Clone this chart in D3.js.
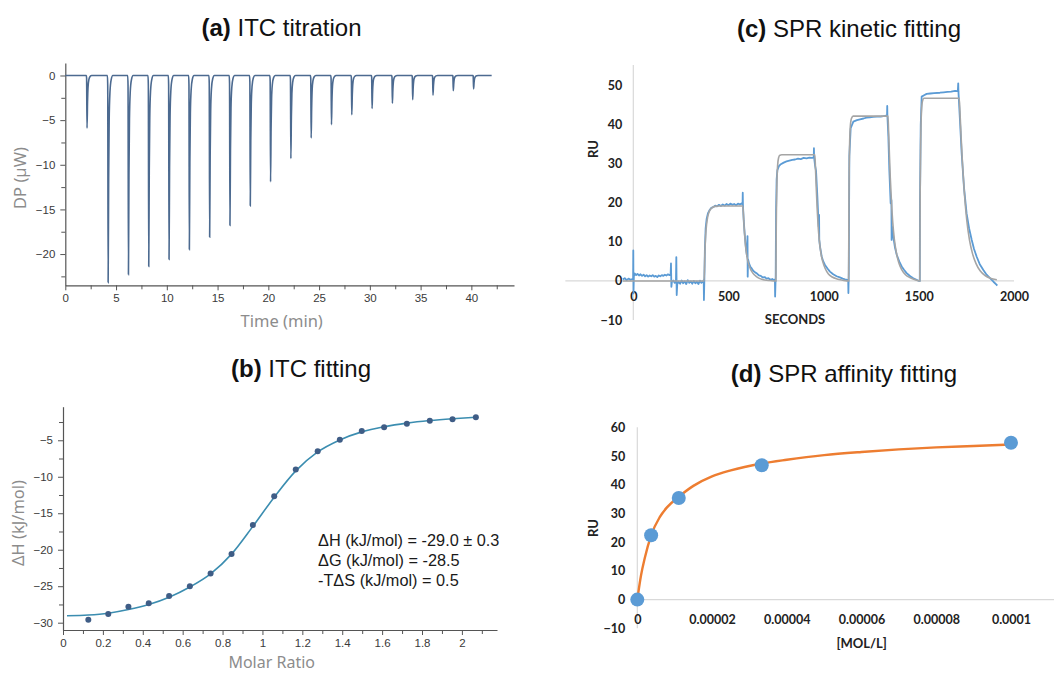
<!DOCTYPE html>
<html><head><meta charset="utf-8">
<script src="https://cdn.jsdelivr.net/npm/d3@7/dist/d3.min.js"></script>
<style>body{margin:0;background:#fff}svg{display:block}</style>
</head><body>
<svg id="chart" width="1054" height="673"></svg>
<script>
// ---------------- DATA ----------------
// (a) ITC titration: injection times (min) and peak heights (µW)
const itcInjectionTimes = [2.1,4.18,6.18,8.18,10.18,12.18,14.18,16.18,18.18,20.18,22.18,24.18,26.18,28.18,30.18,32.18,34.18,36.18,38.18,40.18];
const itcPeakDP = [-5.9,-23.2,-22.3,-21.4,-20.6,-19.5,-18.1,-16.8,-14.6,-11.9,-9.3,-7.0,-5.5,-4.4,-3.7,-3.1,-2.7,-2.2,-1.7,-1.5];
const itcRunEnd = 42;
const itcTimeTicks = [0,5,10,15,20,25,30,35,40];
const itcDPTicks = [0,-5,-10,-15,-20];

// (b) ITC fitting
const molarRatio = [0.127,0.227,0.328,0.43,0.532,0.636,0.74,0.845,0.952,1.059,1.167,1.277,1.388,1.498,1.61,1.724,1.839,1.953,2.07];
const deltaH = [-29.6,-28.8,-27.8,-27.35,-26.35,-25.0,-23.25,-20.6,-16.6,-12.66,-9.02,-6.5,-4.92,-3.73,-3.22,-2.73,-2.32,-2.13,-1.85];
const fitRatio = [0.02,0.127,0.227,0.328,0.43,0.532,0.636,0.74,0.845,0.952,1.059,1.167,1.277,1.388,1.498,1.61,1.724,1.839,1.953,2.07];
const fitDeltaH = [-29.05,-28.95,-28.7,-28.2,-27.5,-26.5,-25.1,-23.3,-20.6,-16.8,-12.8,-9.2,-6.6,-4.95,-3.85,-3.15,-2.65,-2.3,-2.05,-1.85];
const ratioTicks = [0,0.2,0.4,0.6,0.8,1,1.2,1.4,1.6,1.8,2];
const ratioTickLabels = ["0","0.2","0.4","0.6","0.8","1","1.2","1.4","1.6","1.8","2"];
const dHTicks = [-5,-10,-15,-20,-25,-30];
const itcResults = ["\u0394H (kJ/mol) = -29.0 \u00B1 0.3","\u0394G (kJ/mol) = -28.5","-T\u0394S (kJ/mol) = 0.5"];

// (c) SPR kinetic fitting: [seconds, RU]
const sprResponse = [[-55,0.4],[-45,0.7],[-35,0.2],[-25,0.6],[-15,0.3],[-5,0.5],[-1,0.5],[0,7.8],[1,-3.2],[3,1.2],
[8,1.9],[15,1.5],[22,1.8],[30,1.4],[38,1.7],[46,1.3],[54,1.6],[62,1.2],[70,1.5],[78,1.1],[86,1.4],[94,1.2],[102,1.5],[110,1.1],[118,1.3],[126,1.0],[134,1.4],[142,1.2],[150,1.5],[158,1.3],[166,1.6],[174,1.4],[182,1.7],[190,1.5],[196,1.6],
[198,4.5],[200,-1.5],[203,-0.2],[210,0.1],[218,-0.5],[224,-0.2],[226,6.1],[228,-3.6],[231,-0.8],[238,-0.2],[246,-0.7],[254,0.1],[262,-0.6],[270,-0.1],[278,-0.8],[286,0.2],[294,-0.5],[302,-0.1],[310,-0.7],[318,0],[326,-0.6],[334,-0.2],[342,-0.8],[350,0.1],[358,-0.5],[366,-0.2],
[370,0.2],[371,-4.9],[373,-0.5],[376,8],[380,13.5],[385,15.8],[392,17.3],[400,18.1],[410,18.7],[420,18.9],[430,19.3],[440,19.1],[450,19.5],[460,19.2],[470,19.6],[480,19.3],[490,19.7],[500,19.4],[510,19.8],[520,19.5],[530,19.7],[540,19.4],[550,19.8],[560,19.6],[570,19.9],[574,19.6],
[575,22.6],[576,19.5],[580,15.5],[585,12.2],[592,8.2],[598,6.2],[600,11.5],[601,1.1],[603,5.5],[608,4.5],[615,3.6],[622,3.2],[630,2.6],[640,2.2],[650,1.9],[660,1.4],[670,1.3],[680,0.9],[690,1.0],[700,0.6],[710,0.7],[720,0.3],[730,0.5],[740,0.2],
[744,0.4],[745,-4.0],[748,1],[750,18],[753,26],[757,28.4],[765,29.4],[775,29.9],[790,30.3],[805,30.6],[820,30.8],[835,31.0],[850,31.1],[865,31.3],[880,31.2],[895,31.5],[910,31.4],[925,31.6],[940,31.5],[948,31.7],
[949,34],[950,31.6],[955,29.5],[960,28.2],[967,21.6],[974,13.9],[976,16.9],[977,10.5],[981,8.8],[990,6.2],[998,5.0],[1007,4.1],[1020,3.2],[1033,2.4],[1050,1.7],[1068,1.2],[1085,0.9],[1100,0.6],[1112,0.4],[1125,0.3],
[1129,0.1],[1130,-3.1],[1132,2],[1135,32],[1142,39.1],[1156,40.8],[1175,41.2],[1191,41.4],[1210,41.6],[1225,41.8],[1243,41.9],[1260,42.0],[1280,42.1],[1300,42.1],[1314,42.2],[1325,42.3],[1333,42.3],
[1334,44.8],[1335,42.2],[1340,36.9],[1345,28.4],[1352,19.9],[1356,20.7],[1357,10.5],[1359,14],[1366,11.3],[1375,8.5],[1384,6.7],[1397,5.0],[1410,3.7],[1423,2.8],[1436,2.0],[1455,1.2],[1471,0.7],[1488,0.3],[1502,0],
[1505,0],[1506,20],[1510,40],[1515,47.2],[1530,47.6],[1541,47.9],[1560,48.0],[1580,48.1],[1611,48.2],[1630,48.3],[1650,48.4],[1670,48.5],[1690,48.7],[1705,48.6],
[1707,50.6],[1708,48.6],[1716,41.2],[1725,32.7],[1737,24.1],[1751,17.3],[1764,13.5],[1778,10.5],[1790,8.2],[1804,6.2],[1820,4.3],[1839,2.8],[1856,1.6],[1874,0.7],[1892,-0.2],[1909,-1.0],[1912,-1.2]];
const sprFit = [[-55,0],[372,0],[376,7],[380,11.5],[385,14.5],[390,16.2],[396,17.4],[405,18.3],[415,18.8],[430,19.1],[450,19.2],[575,19.2],[578,17.5],[582,14],[587,10.5],[592,8],[598,6],[606,4.3],[615,3.1],[628,2],[645,1.2],[665,0.6],[690,0.25],[720,0.1],[749,0],
[751,14],[754,24],[758,29.5],[763,31.5],[770,32.2],[780,32.3],[954,32.3],[957,29],[961,24],[966,18.5],[971,14],[977,10.5],[985,7.3],[995,5],[1008,3.2],[1025,1.8],[1045,1],[1070,0.5],[1100,0.2],[1131,0],
[1133,22],[1136,34],[1140,39.5],[1146,41.6],[1155,42.2],[1338,42.2],[1341,38.5],[1345,33],[1350,26.5],[1356,20.5],[1363,15],[1371,10.8],[1381,7.5],[1394,4.8],[1410,2.9],[1430,1.6],[1455,0.8],[1480,0.3],[1505,0],
[1507,22],[1510,36],[1514,43.5],[1519,46],[1527,46.8],[1712,46.8],[1716,43.5],[1722,37],[1730,29.5],[1740,22],[1752,15.5],[1766,10.5],[1782,7],[1800,4.5],[1822,2.6],[1848,1.4],[1875,0.7],[1910,0.3]];
const secondsTicks = [0,500,1000,1500,2000];
const ruTicksC = [50,40,30,20,10,0,-10];

// (d) SPR affinity fitting
const concentration = [0,0.0000037,0.0000111,0.0000333,0.0001];
const steadyRU = [0,22.4,35.4,46.8,54.6];
const affFitConc = [0,0.000001,0.000002,0.0000037,0.000006,0.000008,0.0000111,0.000015,0.00002,0.000025,0.0000333,0.00004,0.00005,0.00006,0.00007,0.00008,0.00009,0.0001];
const affFitRU = [0,8.5,14.5,22.4,28.7,32.2,35.8,39.6,42.9,45.0,47.4,48.7,50.3,51.4,52.3,53.0,53.5,54.0];
const concTicks = [0,0.00002,0.00004,0.00006,0.00008,0.0001];
const concTickLabels = ["0","0.00002","0.00004","0.00006","0.00008","0.0001"];
const ruTicksD = [60,50,40,30,20,10,0,-10];

const titles = [["(a)"," ITC titration"],["(b)"," ITC fitting"],["(c)"," SPR kinetic fitting"],["(d)"," SPR affinity fitting"]];

// ---------------- DRAW ----------------
const svg = d3.select("#chart");
const TF = "'Liberation Sans', Arial, sans-serif";
const XF = "Lato, 'Open Sans', sans-serif";

function title(t, cx, by) {
  const tx = svg.append("text").attr("x", cx).attr("y", by).attr("text-anchor","middle")
    .attr("font-family", TF).attr("font-size", 24).attr("fill","#111");
  tx.append("tspan").attr("font-weight","bold").text(t[0]);
  tx.append("tspan").text(t[1]);
}
title(titles[0], 281.5, 35.5);
title(titles[1], 301, 377);
title(titles[2], 849, 36.5);
title(titles[3], 844, 381.5);

function styleAxis(g, color, fs) {
  g.selectAll("path.domain").attr("stroke", color).attr("stroke-width",1.2);
  g.selectAll(".tick line").attr("stroke", color);
  g.selectAll("text").attr("font-family", TF).attr("font-size", fs).attr("fill","#3a3a3a");
}

// ---- (a) ----
{
  const x = d3.scaleLinear([0, 44.2], [65.3, 514]);
  const y = d3.scaleLinear([-23.5, 1.4], [285.3, 63]);
  const g = svg.append("g");
  const minorX = d3.range(2.5, 44, 5);
  const minorY = d3.range(-2.5, -23, -5);
  const ax = g.append("g").attr("transform",`translate(0,${y(-23.5)})`)
    .call(d3.axisBottom(x).tickValues(itcTimeTicks).tickSize(5).tickSizeOuter(0).tickPadding(4).tickFormat(d3.format("d")));
  styleAxis(ax, "#555", 11.5);
  const axm = g.append("g").attr("transform",`translate(0,${y(-23.5)})`)
    .call(d3.axisBottom(x).tickValues(minorX).tickSize(4).tickSizeOuter(0).tickFormat(""));
  axm.select("path.domain").remove(); axm.selectAll("line").attr("stroke","#555");
  const ay = g.append("g").attr("transform",`translate(${x(0)},0)`)
    .call(d3.axisLeft(y).tickValues(itcDPTicks).tickSize(5).tickSizeOuter(0).tickPadding(5).tickFormat(d3.format("d")));
  styleAxis(ay, "#555", 11.5);
  const aym = g.append("g").attr("transform",`translate(${x(0)},0)`)
    .call(d3.axisLeft(y).tickValues(minorY).tickSize(4).tickSizeOuter(0).tickFormat(""));
  aym.select("path.domain").remove(); aym.selectAll("line").attr("stroke","#555");

  // thermogram built from injection peaks; peak profile = rendering shape
  const peakShape = [[-0.03,0],[0.0,0.05],[0.04,1.0],[0.09,0.5],[0.14,0.22],[0.22,0.08],[0.34,0.02],[0.5,0]];
  const pts = [[0,0]];
  itcInjectionTimes.forEach((t,i) => peakShape.forEach(p => pts.push([t+p[0], itcPeakDP[i]*p[1]])));
  pts.push([itcRunEnd,0]);
  g.append("path").attr("d", d3.line().x(d=>x(d[0])).y(d=>y(d[1])).curve(d3.curveMonotoneX)(pts))
    .attr("fill","none").attr("stroke","#4c6a90").attr("stroke-width",1.6);

  svg.append("text").attr("x",281.7).attr("y",327).attr("text-anchor","middle")
    .attr("font-family","'Noto Sans', sans-serif").attr("font-size",16.5).attr("fill","#8c8c8c").text("Time (min)");
  svg.append("text").attr("transform","translate(26,178) rotate(-90)").attr("text-anchor","middle")
    .attr("font-family","'Noto Sans', sans-serif").attr("font-size",16.5).attr("fill","#8c8c8c").text("DP (\u00B5W)");
}

// ---- (b) ----
{
  const x = d3.scaleLinear([0, 2.176], [63, 497]);
  const y = d3.scaleLinear([-31, -0.4], [630, 406.7]);
  const g = svg.append("g");
  const ax = g.append("g").attr("transform",`translate(0,${y(-31)})`)
    .call(d3.axisBottom(x).tickValues(ratioTicks).tickSize(5).tickSizeOuter(0).tickPadding(4).tickFormat((d,i)=>ratioTickLabels[i]));
  styleAxis(ax, "#555", 11.5);
  const axm = g.append("g").attr("transform",`translate(0,${y(-31)})`)
    .call(d3.axisBottom(x).tickValues(d3.range(0.1, 2.15, 0.2)).tickSize(4).tickSizeOuter(0).tickFormat(""));
  axm.select("path.domain").remove(); axm.selectAll("line").attr("stroke","#555");
  const ay = g.append("g").attr("transform",`translate(${x(0)},0)`)
    .call(d3.axisLeft(y).tickValues(dHTicks).tickSize(5).tickSizeOuter(0).tickPadding(5).tickFormat(d3.format("d")));
  styleAxis(ay, "#555", 11.5);
  const aym = g.append("g").attr("transform",`translate(${x(0)},0)`)
    .call(d3.axisLeft(y).tickValues(d3.range(-2.5, -30, -5)).tickSize(4).tickSizeOuter(0).tickFormat(""));
  aym.select("path.domain").remove(); aym.selectAll("line").attr("stroke","#555");

  g.append("path").attr("d", d3.line().x((d,i)=>x(fitRatio[i])).y(d=>y(d)).curve(d3.curveMonotoneX)(fitDeltaH))
    .attr("fill","none").attr("stroke","#3b8db0").attr("stroke-width",1.6);
  g.selectAll("circle.pt").data(deltaH).join("circle").attr("cx",(d,i)=>x(molarRatio[i])).attr("cy",d=>y(d))
    .attr("r",3).attr("fill","#3f5d86");

  itcResults.forEach((s,i)=> svg.append("text").attr("x",318).attr("y",545.5+i*20.3)
    .attr("font-family",TF).attr("font-size",16.3).attr("fill","#1a1a1a").text(s));

  svg.append("text").attr("x",271.7).attr("y",668).attr("text-anchor","middle")
    .attr("font-family","'Noto Sans', sans-serif").attr("font-size",16).attr("fill","#8c8c8c").text("Molar Ratio");
  svg.append("text").attr("transform","translate(24,523) rotate(-90)").attr("text-anchor","middle")
    .attr("font-family","'Noto Sans', sans-serif").attr("font-size",16.5).attr("fill","#8c8c8c").text("\u0394H (kJ/mol)");
}

// ---- (c) ----
{
  const x = d3.scaleLinear([0, 2000], [633.3, 1014]);
  const y = d3.scaleLinear([-10, 50], [320, 85.7]);
  const g = svg.append("g");
  g.append("line").attr("x1",x(-357)).attr("x2",x(2000)).attr("y1",y(0)).attr("y2",y(0)).attr("stroke","#d9d9d9").attr("stroke-width",1.2);
  g.append("line").attr("x1",x(0)).attr("x2",x(0)).attr("y1",y(55.3)).attr("y2",y(-10)).attr("stroke","#d9d9d9").attr("stroke-width",1.2);
  const ay = g.append("g").attr("transform",`translate(${x(0)},0)`)
    .call(d3.axisLeft(y).tickValues(ruTicksC).tickSize(0).tickPadding(11).tickFormat(d3.format("d")));
  ay.select("path.domain").remove();
  ay.selectAll("text").attr("font-family",XF).attr("font-weight","bold").attr("font-size",12.5).attr("fill","#222");
  const ax = g.append("g").attr("transform",`translate(0,${y(0)})`)
    .call(d3.axisBottom(x).tickValues(secondsTicks).tickSize(0).tickPadding(11.5).tickFormat(d3.format("d")));
  ax.select("path.domain").remove();
  ax.selectAll("text").attr("font-family",XF).attr("font-weight","bold").attr("font-size",12.5).attr("fill","#222");

  const line = d3.line().x(d=>x(d[0])).y(d=>y(d[1]));
  g.append("path").attr("d", line(sprResponse)).attr("fill","none").attr("stroke","#5b9bd5").attr("stroke-width",1.8).attr("stroke-linejoin","round");
  g.append("path").attr("d", line.curve(d3.curveMonotoneX)(sprFit)).attr("fill","none").attr("stroke","#a5a5a5").attr("stroke-width",1.6);

  svg.append("text").attr("x",795).attr("y",324).attr("text-anchor","middle")
    .attr("font-family",XF).attr("font-weight","bold").attr("font-size",13).attr("fill","#222").text("SECONDS");
  svg.append("text").attr("transform","translate(598,149) rotate(-90)").attr("text-anchor","middle")
    .attr("font-family",XF).attr("font-weight","bold").attr("font-size",13).attr("fill","#222").text("RU");
}

// ---- (d) ----
{
  const x = d3.scaleLinear([0, 0.0001], [637.3, 1011]);
  const y = d3.scaleLinear([-10, 60], [628.3, 427.3]);
  const g = svg.append("g");
  g.append("line").attr("x1",x(0)).attr("x2",1054).attr("y1",y(0)).attr("y2",y(0)).attr("stroke","#d9d9d9").attr("stroke-width",1.2);
  g.append("line").attr("x1",x(0)).attr("x2",x(0)).attr("y1",y(60)).attr("y2",y(-10)).attr("stroke","#d9d9d9").attr("stroke-width",1.2);
  const ay = g.append("g").attr("transform",`translate(${x(0)},0)`)
    .call(d3.axisLeft(y).tickValues(ruTicksD).tickSize(0).tickPadding(12).tickFormat(d3.format("d")));
  ay.select("path.domain").remove();
  ay.selectAll("text").attr("font-family",XF).attr("font-weight","bold").attr("font-size",12.5).attr("fill","#222");
  const ax = g.append("g").attr("transform",`translate(0,${y(0)})`)
    .call(d3.axisBottom(x).tickValues(concTicks).tickSize(0).tickPadding(16).tickFormat((d,i)=>concTickLabels[i]));
  ax.select("path.domain").remove();
  ax.selectAll("text").attr("font-family",XF).attr("font-weight","bold").attr("font-size",12.5).attr("fill","#222");

  g.append("path").attr("d", d3.line().x((d,i)=>x(affFitConc[i])).y(d=>y(d)).curve(d3.curveMonotoneX)(affFitRU))
    .attr("fill","none").attr("stroke","#ed7d31").attr("stroke-width",2.4);
  g.selectAll("circle.pt").data(steadyRU).join("circle").attr("cx",(d,i)=>x(concentration[i])).attr("cy",d=>y(d))
    .attr("r",7).attr("fill","#5b9bd5");

  svg.append("text").attr("x",861.7).attr("y",648).attr("text-anchor","middle")
    .attr("font-family",XF).attr("font-weight","bold").attr("font-size",13).attr("fill","#222").text("[MOL/L]");
  svg.append("text").attr("transform","translate(597.5,528) rotate(-90)").attr("text-anchor","middle")
    .attr("font-family",XF).attr("font-weight","bold").attr("font-size",13).attr("fill","#222").text("RU");
}
</script>
</body></html>
